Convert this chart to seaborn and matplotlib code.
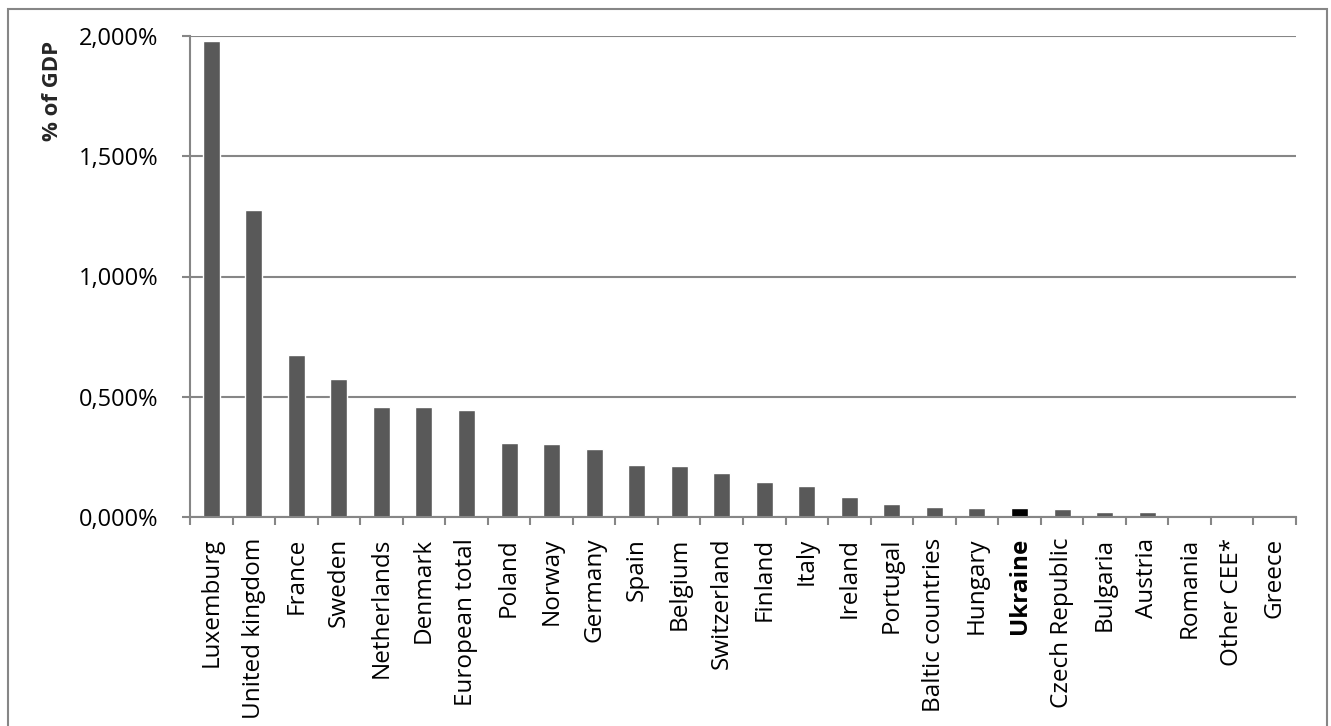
import numpy as np
import pandas as pd
import matplotlib
matplotlib.use("Agg")
import matplotlib.pyplot as plt
import seaborn as sns
from matplotlib.patches import Rectangle
from matplotlib.ticker import FuncFormatter

categories = ["Luxemburg", "United kingdom", "France", "Sweden", "Netherlands",
              "Denmark", "European total", "Poland", "Norway", "Germany", "Spain",
              "Belgium", "Switzerland", "Finland", "Italy", "Ireland", "Portugal",
              "Baltic countries", "Hungary", "Ukraine", "Czech Republic", "Bulgaria",
              "Austria", "Romania", "Other CEE*", "Greece"]
values = [1.980, 1.277, 0.675, 0.575, 0.458, 0.457, 0.445, 0.309, 0.305, 0.284,
          0.216, 0.212, 0.183, 0.146, 0.128, 0.085, 0.056, 0.041, 0.036, 0.037,
          0.032, 0.022, 0.019, 0.004, 0.0, 0.0]
highlight = "Ukraine"
y_ticks = [0.0, 0.5, 1.0, 1.5, 2.0]
y_label = "% of GDP"

sns.set_theme(style="white")
plt.rcParams['font.family'] = ['Open Sans', 'DejaVu Sans']

df = pd.DataFrame({"country": categories, "value": values})
palette = {c: ("#000000" if c == highlight else "#595959") for c in categories}

fig = plt.figure(figsize=(13.31, 7.26), dpi=100)
ax = fig.add_axes([190 / 1331, 1 - 517 / 726, (1296 - 190) / 1331, (517 - 36) / 726])

sns.barplot(data=df, x="country", y="value", hue="country", palette=palette,
            legend=False, width=0.4, ax=ax, saturation=1)

n = len(categories)
ax.set_xlim(-0.5, n - 0.5)
ax.set_ylim(0, 2.0)
ax.set_yticks(y_ticks)
ax.yaxis.set_major_formatter(FuncFormatter(lambda v, p: f"{v:.3f}%".replace(".", ",")))
ax.grid(axis="y", color="#868686", linewidth=1.5)
ax.set_axisbelow(True)

for s in ["top", "right"]:
    ax.spines[s].set_visible(False)
for s in ["left", "bottom"]:
    ax.spines[s].set_color("#868686")
    ax.spines[s].set_linewidth(1.5)

ax.set_xticks(range(n))
ax.set_xticks(np.arange(-0.5, n, 1), minor=True)
ax.tick_params(axis="x", which="major", length=0, pad=15, labelsize=17.5,
               labelcolor="#000000")
ax.tick_params(axis="x", which="minor", length=6, width=1.5, color="#868686",
               direction="out", bottom=True)
ax.tick_params(axis="y", which="major", length=6, width=1.5, color="#868686",
               direction="out", left=True, pad=17, labelsize=17, labelcolor="#000000")
for lab in ax.get_xticklabels():
    lab.set_rotation(90)
    lab.set_va("top")
    lab.set_ha("center")
    if lab.get_text() == highlight:
        lab.set_fontweight("bold")

ax.set_xlabel("")
ax.set_ylabel("")
fig.text(53 / 1331, 1 - 91 / 726, y_label, rotation=90, ha="center", va="center",
         fontsize=16, fontweight="bold")

fig.patches.append(Rectangle((8 / 1331, -0.1), (1327 - 8) / 1331, 1.1 - 9 / 726,
                             transform=fig.transFigure, fill=False,
                             edgecolor="#868686", linewidth=1.5))

fig.savefig("out.png", dpi=100, facecolor="white")
